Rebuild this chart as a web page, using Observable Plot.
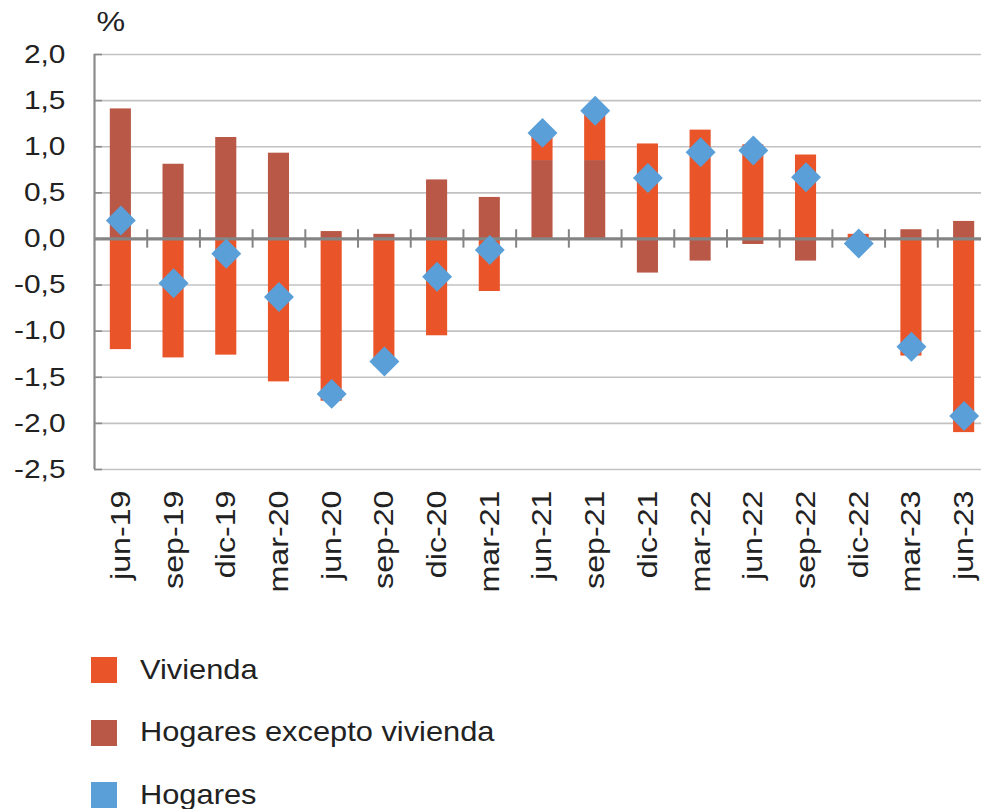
<!DOCTYPE html>
<html><head><meta charset="utf-8">
<script src="https://cdn.jsdelivr.net/npm/d3@7"></script>
<script src="https://cdn.jsdelivr.net/npm/@observablehq/plot@0.6"></script>
<style>
html,body{margin:0;padding:0;background:#fff;overflow:hidden;width:981px;height:809px}
#chart svg{max-width:none !important}
#legend{padding-top:19px;margin-left:91px;font-family:"Liberation Sans",Arial,sans-serif;font-size:28px;line-height:1.1;color:#222}
.item{display:flex;align-items:center;height:62.5px}
.sw{width:26px;height:26px;margin-right:23px;flex:none}
.lbl{display:inline-block;transform:scaleX(1.1);transform-origin:left center;white-space:nowrap}
</style></head><body><div id="chart"></div><div id="legend"></div>
<script>
const periods = ["jun-19","sep-19","dic-19","mar-20","jun-20","sep-20","dic-20","mar-21","jun-21","sep-21","dic-21","mar-22","jun-22","sep-22","dic-22","mar-23","jun-23"];
const vivienda = [-1.20,-1.29,-1.26,-1.55,-1.76,-1.38,-1.05,-0.57,0.30,0.54,1.03,1.18,1.02,0.91,0.05,-1.27,-2.10];
const hogaresExcepto = [1.41,0.81,1.10,0.93,0.08,0.05,0.64,0.45,0.85,0.85,-0.37,-0.24,-0.06,-0.24,-0.10,0.10,0.19];
const hogares = [0.20,-0.48,-0.16,-0.63,-1.68,-1.33,-0.41,-0.12,1.15,1.39,0.66,0.94,0.96,0.67,-0.05,-1.17,-1.92];
const yTicks = [2.0,1.5,1.0,0.5,0.0,-0.5,-1.0,-1.5,-2.0,-2.5];
const seriesNames = ["Vivienda","Hogares excepto vivienda","Hogares"];
const seriesColors = ["#EA5429","#B95846","#5A9FD8"];

// stacked rows: "excepto" first so it sits next to zero
const rows = [
  ...periods.map((p,i)=>({period:p, serie:seriesNames[1], value:hogaresExcepto[i]})),
  ...periods.map((p,i)=>({period:p, serie:seriesNames[0], value:vivienda[i]}))
];
const totals = periods.map((p,i)=>({period:p, value:hogares[i]}));

const W = 990, ML = 94;
const bw = (W - ML) / periods.length;

const chart = Plot.plot({
  width: W, height: 620,
  marginLeft: ML, marginRight: 0, marginTop: 54, marginBottom: 151,
  style: {fontFamily: "'Liberation Sans', Arial, sans-serif", fontSize: "26px", color: "#222", background: "white", overflow: "visible", maxWidth: "none"},
  x: {domain: periods, padding: 0, round: false, axis: null, label: null},
  y: {domain: [-2.5, 2.0], axis: null, label: null},
  color: {domain: seriesNames.slice(0,2), range: seriesColors.slice(0,2)},
  marks: [
    Plot.gridY(yTicks, {stroke: "#c2c2c2", strokeOpacity: 1, strokeWidth: 1.6}),
    Plot.barY(rows, {x: "period", y: "value", fill: "serie", insetLeft: 15.8, insetRight: 15.8}),
    Plot.ruleY([0], {stroke: "#848484", strokeWidth: 3.2}),
    Plot.ruleX(periods.slice(1), {x: d => d, y1: -0.1, y2: 0.1, dx: -bw/2, stroke: "#848484", strokeWidth: 2}),
    Plot.ruleX([periods[0]], {y1: -2.5, y2: 2.0, dx: -bw/2, stroke: "#8a8a8a", strokeWidth: 2.2}),
    Plot.axisY(yTicks, {tickSize: -8, text: null, label: null, stroke: "#8a8a8a", strokeWidth: 1.6}),
    Plot.dot(totals, {x: "period", y: "value", symbol: "diamond2", r: 13.5, fill: seriesColors[2], stroke: "none"}),
    Plot.axisY(yTicks, {tickSize: 0, tickPadding: 29, label: null, tickFormat: d => d.toFixed(1).replace(".", ","), fill: "#222"}),
    Plot.axisX({tickRotate: -90, tickSize: 0, tickPadding: 21, label: null, fontSize: 28, fill: "#222"}),
    Plot.text(["%"], {frameAnchor: "top-left", dy: -43, dx: 2, textAnchor: "start", fontSize: 28, fill: "#222"})
  ]
});
chart.style.maxWidth = "none";
chart.querySelectorAll("text").forEach(t => {
  const tr = t.getAttribute("transform") || "";
  t.setAttribute("transform", tr + " scale(1.15,1)");
});
document.getElementById("chart").appendChild(chart);

const legend = document.getElementById("legend");
seriesNames.forEach((n,i) => {
  const it = document.createElement("div"); it.className = "item";
  const sw = document.createElement("span"); sw.className = "sw"; sw.style.background = seriesColors[i];
  const lb = document.createElement("span"); lb.className = "lbl"; lb.textContent = n;
  it.appendChild(sw); it.appendChild(lb); legend.appendChild(it);
});
</script></body></html>
